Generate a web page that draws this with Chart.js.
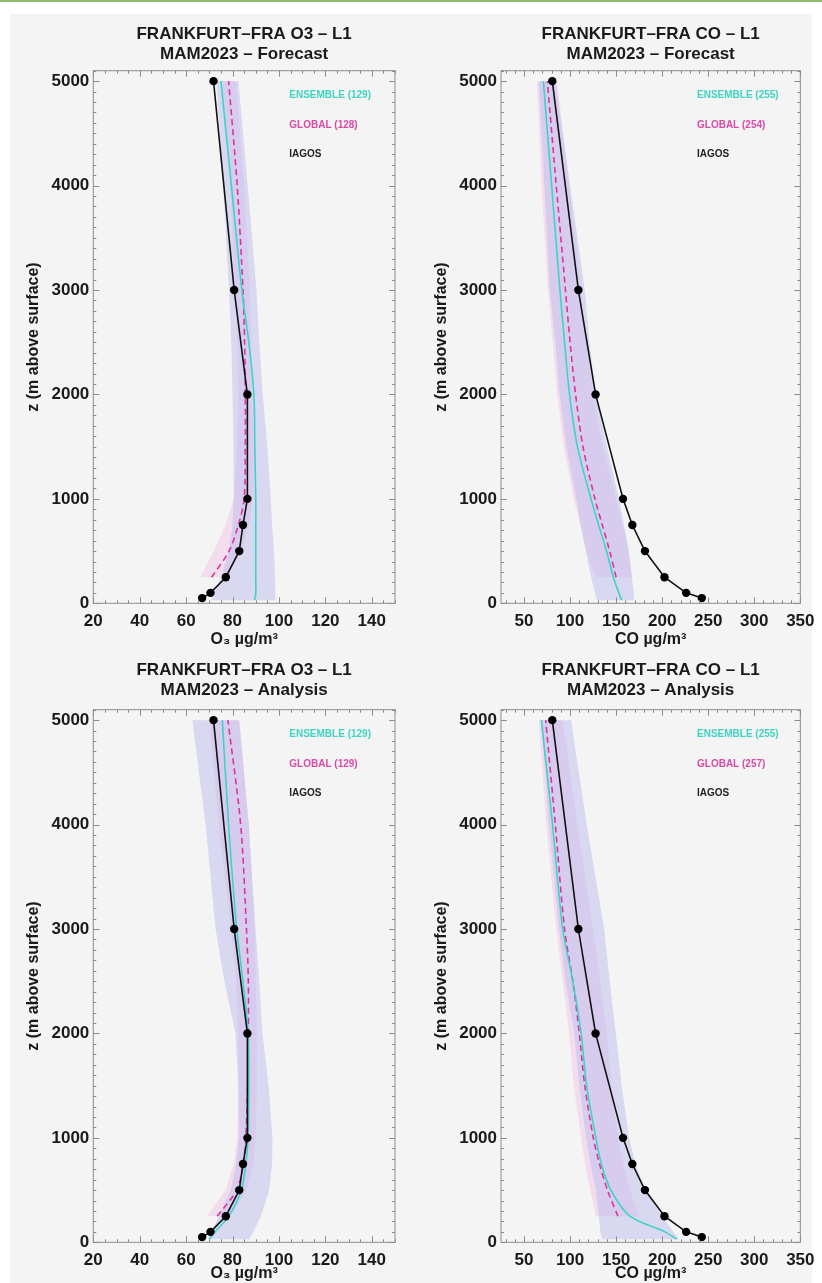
<!DOCTYPE html>
<html>
<head>
<meta charset="utf-8">
<title>Frankfurt O3 / CO profiles MAM2023</title>
<script src="https://cdn.jsdelivr.net/npm/chart.js@4.4.1/dist/chart.umd.min.js"></script>
<style>
  body { margin: 0; width: 822px; height: 1283px; background: #fff; position: relative; overflow: hidden; }
  #topline { position: absolute; left: 0; top: 0; width: 822px; height: 2px; background: #8dbb6e; }
  #panel { position: absolute; left: 10px; top: 14px; width: 802px; height: 1269px; background: #f4f4f4; }
  canvas { position: absolute; }
</style>
</head>
<body>
<div id="topline"></div>
<div id="panel"></div>
<canvas id="o3Forecast" width="411" height="650" style="left:0;top:0"></canvas>
<canvas id="coForecast" width="411" height="650" style="left:411px;top:0"></canvas>
<canvas id="o3Analysis" width="411" height="633" style="left:0;top:650px"></canvas>
<canvas id="coAnalysis" width="411" height="633" style="left:411px;top:650px"></canvas>
<script>
// altitude levels (m above surface)
const iagosZ  = [50, 100, 250, 500, 750, 1000, 2000, 3000, 5000];
const modelZ  = [30, 100, 250, 500, 750, 1000, 1500, 2000, 2500, 3000, 4000, 5000];
const globalZ = [250, 500, 750, 1000, 1500, 2000, 2500, 3000, 4000, 5000];

// IAGOS observations (same in forecast and analysis panels)
const iagosO3 = [66.9, 70.5, 77.1, 82.9, 84.5, 86.4, 86.4, 80.7, 71.8];
const iagosCO = [243, 226, 202.5, 181.3, 167.6, 157.5, 127.7, 109, 80.7];

// O3 forecast
const ensO3F   = [89.5, 90, 90, 90, 90, 90, 89.6, 89.2, 87, 84, 79.5, 75];
const ensO3FLo = [71, 72, 75, 78.5, 80, 80.5, 80.5, 80, 79.5, 78.5, 76, 73];
const ensO3FHi = [98.5, 98.5, 98.3, 97.8, 97, 96.5, 95, 93, 91.5, 90.3, 86.5, 82.5];
const globO3F   = [71, 78.5, 82.5, 85, 85.5, 85.5, 85.2, 84.5, 82, 78.3];
const globO3FLo = [66, 72, 77, 80.5, 82, 82.5, 82, 81, 79, 75.5];
const globO3FHi = [77, 84, 87, 89, 89, 88.5, 88, 87.5, 85, 81.5];

// CO forecast
const ensCOF   = [156, 153, 147, 139.6, 131, 122.7, 108, 99.4, 94, 89, 80, 71];
const ensCOFLo = [129, 127, 123, 117, 111.5, 106.6, 96, 88.6, 84, 78, 72, 66];
const ensCOFHi = [169, 169.4, 167, 164, 158.5, 153, 140, 128, 121, 116, 100, 84];
const globCOF   = [150, 143, 135, 127, 114, 106, 100, 95, 85, 75.3];
const globCOFLo = [128, 118, 111, 104, 93, 86, 81, 76, 69, 64];
const globCOFHi = [168, 163, 157, 150, 136, 125, 118, 112, 99, 86];

// O3 analysis
const ensO3A   = [70, 72.5, 78.4, 83.8, 85.7, 86.7, 87, 86.7, 84.5, 81.8, 78.3, 75.6];
const ensO3ALo = [69.8, 71, 74.1, 79.2, 81.5, 82.8, 82.5, 81.3, 76.5, 72.7, 68.4, 62.7];
const ensO3AHi = [87.1, 89, 92.2, 95.8, 97, 97.2, 95.5, 92.9, 91.5, 89.9, 87, 82.8];
const globO3A   = [73.4, 81.8, 84.6, 85.7, 86.5, 86.8, 86.8, 86, 83.5, 78];
const globO3ALo = [69, 77, 80.5, 82, 82.5, 82.5, 81.5, 79.5, 74, 70];
const globO3AHi = [79, 86, 89, 90, 90.5, 90.5, 90, 89.5, 87, 83];

// CO analysis
const ensCOA   = [216, 203, 165, 144.3, 134, 128, 118, 112, 103, 92, 81, 68.8];
const ensCOALo = [135, 133, 131, 128, 122, 117.3, 110, 104.7, 95, 88, 77, 68.8];
const ensCOAHi = [218, 212, 200, 182, 171, 164, 156, 149.7, 143, 137, 118, 101];
const globCOA   = [152, 140.6, 132, 125.2, 116, 110, 103, 94, 84, 73.5];
const globCOALo = [128, 122, 116, 112, 104, 99, 92, 85, 74, 66];
const globCOAHi = [175, 165, 158, 152, 145, 140, 133, 125, 108, 92];

// tick labels
const zTicks  = [0, 1000, 2000, 3000, 4000, 5000];
const o3Ticks = [20, 40, 60, 80, 100, 120, 140];
const coTicks = [50, 100, 150, 200, 250, 300, 350];

const FONT = '"Liberation Sans", Arial, Helvetica, sans-serif';
const CYAN = '#3dd3c6';
const MAGENTA = '#d8359f';

function pts(xs, zs) {
  return zs.map((z, i) => ({ x: xs[i], y: z }));
}

function band(lo, hi, zs) {
  const left = zs.map((z, i) => ({ x: lo[i], y: z }));
  const right = zs.map((z, i) => ({ x: hi[i], y: z })).reverse();
  return left.concat(right);
}

// IDL style box: inward ticks on all four sides, plus the text legend
const framePlugin = {
  id: 'frame',
  afterDatasetsDraw(chart, args, opts) {
    const { ctx, chartArea: a } = chart;
    const xs = chart.scales.x, ys = chart.scales.y;
    ctx.save();
    ctx.strokeStyle = '#8c8c8c';
    ctx.lineWidth = 1;
    ctx.strokeRect(a.left, a.top, a.width, a.height);
    ctx.beginPath();
    for (let v = Math.ceil(xs.min / opts.xMinor) * opts.xMinor; v <= xs.max; v += opts.xMinor) {
      const px = Math.round(xs.getPixelForValue(v)) + 0.5;
      const len = v % opts.xMajor === 0 ? 6 : 3;
      ctx.moveTo(px, a.bottom); ctx.lineTo(px, a.bottom - len);
      ctx.moveTo(px, a.top); ctx.lineTo(px, a.top + len);
    }
    for (let v = 0; v <= ys.max; v += 100) {
      const py = Math.round(ys.getPixelForValue(v)) + 0.5;
      const len = v % 1000 === 0 ? 6 : 3;
      ctx.moveTo(a.left, py); ctx.lineTo(a.left + len, py);
      ctx.moveTo(a.right, py); ctx.lineTo(a.right - len, py);
    }
    ctx.stroke();

    ctx.font = 'bold 10px ' + FONT;
    ctx.textBaseline = 'middle';
    ctx.textAlign = 'left';
    opts.labels.forEach((lab, i) => {
      ctx.fillStyle = lab.color;
      ctx.fillText(lab.text, a.left + 196, a.top + 25 + i * 29.5);
    });
    ctx.restore();
  }
};

function makeChart(id, p) {
  const datasets = [
    { data: pts(p.iagos, iagosZ), borderColor: '#111', backgroundColor: '#000', borderWidth: 1.6,
      pointRadius: 4.2, pointBorderWidth: 0, showLine: true, order: 0 },
    { data: pts(p.ens, modelZ), borderColor: CYAN, borderWidth: 1.6, pointRadius: 0,
      showLine: true, tension: 0.3, order: 1 },
    { data: pts(p.glob, globalZ), borderColor: MAGENTA, borderWidth: 1.6, borderDash: [6, 4],
      pointRadius: 0, showLine: true, tension: 0.3, order: 2 },
    { data: band(p.ensLo, p.ensHi, modelZ), borderWidth: 0, borderColor: 'rgba(0,0,0,0)',
      backgroundColor: 'rgba(188,188,238,0.5)', fill: 'shape', pointRadius: 0, showLine: true,
      tension: 0, order: 3 },
    { data: band(p.globLo, p.globHi, globalZ), borderWidth: 0, borderColor: 'rgba(0,0,0,0)',
      backgroundColor: 'rgba(240,188,228,0.4)', fill: 'shape', pointRadius: 0, showLine: true,
      tension: 0, order: 4 }
  ];

  return new Chart(document.getElementById(id), {
    type: 'scatter',
    data: { datasets },
    options: {
      responsive: false,
      animation: false,
      devicePixelRatio: 1,
      layout: { padding: { left: 0, right: p.padRight, top: p.padTop, bottom: 0 } },
      plugins: {
        legend: { display: false },
        tooltip: { enabled: false },
        title: {
          display: true,
          fullSize: false,
          text: p.title,
          color: '#1a1a1a',
          font: { family: FONT, size: 17, weight: 'bold', lineHeight: 20 / 17 },
          padding: { top: p.titleTop, bottom: p.titleBottom }
        },
        frame: { xMinor: p.xMinor, xMajor: p.xMajor, labels: p.labels }
      },
      scales: {
        x: {
          type: 'linear',
          min: p.xMin,
          max: p.xMax,
          afterBuildTicks: s => { s.ticks = p.xTicks.map(v => ({ value: v })); },
          afterFit: s => { s.height = p.xAxisH; },
          grid: { display: false, drawTicks: false },
          border: { display: false },
          ticks: { color: '#1a1a1a', padding: 7.5, maxRotation: 0, callback: v => String(v),
                   font: { family: FONT, size: 17, weight: 'bold' } },
          title: { display: true, text: p.xTitle, color: '#1a1a1a', padding: { top: 0, bottom: p.xTitlePad },
                   font: { family: FONT, size: 16, weight: 'bold' } }
        },
        y: {
          type: 'linear',
          min: 0,
          max: 5100,
          afterBuildTicks: s => { s.ticks = zTicks.map(v => ({ value: v })); },
          afterFit: s => { s.width = p.yAxisW; },
          grid: { display: false, drawTicks: false },
          border: { display: false },
          ticks: { color: '#1a1a1a', padding: 4, callback: v => String(v),
                   font: { family: FONT, size: 17, weight: 'bold' } },
          title: { display: true, text: 'z (m above surface)', color: '#1a1a1a', padding: { top: p.yTitlePad, bottom: 0 },
                   font: { family: FONT, size: 16, weight: 'bold', lineHeight: 1.25 } }
        }
      }
    },
    plugins: [framePlugin]
  });
}

const o3Axis = { xMin: 20, xMax: 150, xTicks: o3Ticks, xMinor: 5, xMajor: 20, xTitle: 'O₃ µg/m³',
                 yAxisW: 93.3, padRight: 16, yTitlePad: 24 };
const coAxis = { xMin: 25, xMax: 350, xTicks: coTicks, xMinor: 10, xMajor: 50, xTitle: 'CO µg/m³',
                 yAxisW: 90, padRight: 19, yTitlePad: 20.7 };
const topRow = { padTop: 14, titleTop: 10, titleBottom: 6.7, xAxisH: 46.7, xTitlePad: 1 };
const bottomRow = { padTop: 0, titleTop: 10, titleBottom: 9.7, xAxisH: 40.7, xTitlePad: 0 };

function legendLabels(nEns, nGlob) {
  return [
    { text: 'ENSEMBLE (' + nEns + ')', color: '#3fd4c2' },
    { text: 'GLOBAL (' + nGlob + ')', color: '#d94aa8' },
    { text: 'IAGOS', color: '#222' }
  ];
}

makeChart('o3Forecast', Object.assign({}, o3Axis, topRow, {
  title: ['FRANKFURT–FRA O3 – L1', 'MAM2023 – Forecast'],
  iagos: iagosO3, ens: ensO3F, ensLo: ensO3FLo, ensHi: ensO3FHi,
  glob: globO3F, globLo: globO3FLo, globHi: globO3FHi,
  labels: legendLabels(129, 128)
}));

makeChart('coForecast', Object.assign({}, coAxis, topRow, {
  title: ['FRANKFURT–FRA CO – L1', 'MAM2023 – Forecast'],
  iagos: iagosCO, ens: ensCOF, ensLo: ensCOFLo, ensHi: ensCOFHi,
  glob: globCOF, globLo: globCOFLo, globHi: globCOFHi,
  labels: legendLabels(255, 254)
}));

makeChart('o3Analysis', Object.assign({}, o3Axis, bottomRow, {
  title: ['FRANKFURT–FRA O3 – L1', 'MAM2023 – Analysis'],
  iagos: iagosO3, ens: ensO3A, ensLo: ensO3ALo, ensHi: ensO3AHi,
  glob: globO3A, globLo: globO3ALo, globHi: globO3AHi,
  labels: legendLabels(129, 129)
}));

makeChart('coAnalysis', Object.assign({}, coAxis, bottomRow, {
  title: ['FRANKFURT–FRA CO – L1', 'MAM2023 – Analysis'],
  iagos: iagosCO, ens: ensCOA, ensLo: ensCOALo, ensHi: ensCOAHi,
  glob: globCOA, globLo: globCOALo, globHi: globCOAHi,
  labels: legendLabels(255, 257)
}));
</script>
</body>
</html>
